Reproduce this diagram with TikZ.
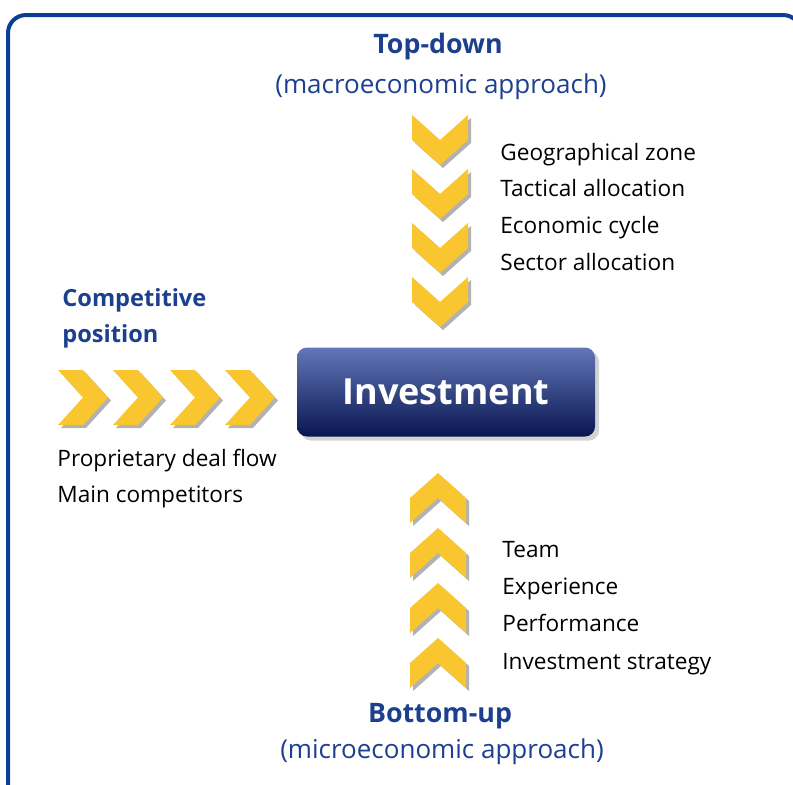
\documentclass[tikz,border=0pt]{standalone}
\usepackage{fontspec}
\setmainfont{Open Sans}
\usetikzlibrary{shadows}
\definecolor{frameblue}{HTML}{0B3F93}
\definecolor{headblue}{HTML}{1C3F8E}
\definecolor{chevyellow}{HTML}{F9C630}
\definecolor{boxtop}{HTML}{6276B8}
\definecolor{boxmid}{HTML}{263F93}
\definecolor{boxbot}{HTML}{081650}
\tikzset{
  chevron/.style={fill=chevyellow},
  chevshadow/.style={fill=black!30},
  heading/.style={font=\bfseries\fontsize{13.4}{18}\selectfont, text=headblue},
  subhead/.style={font=\fontsize{13}{15}\selectfont, text=headblue},
  item/.style={font=\fontsize{11.3}{13}\selectfont, anchor=west, inner sep=0pt,
    text height=8.2pt, text depth=2.6pt},
  investbox/.style={rounded corners=5pt, minimum width=149pt, minimum height=44.5pt,
    top color=boxtop, middle color=boxmid, bottom color=boxbot, text=white,
    font=\bfseries\fontsize{18}{20}\selectfont,
    drop shadow={opacity=.35, shadow xshift=2pt, shadow yshift=-2pt}},
  chevdown/.pic={
    \fill[chevshadow, shift={(3,3)}] (-28,0) -- (0,25) -- (28,0) -- (28,25) -- (0,50) -- (-28,25) -- cycle;
    \fill[chevron] (-28,0) -- (0,25) -- (28,0) -- (28,25) -- (0,50) -- (-28,25) -- cycle;
  },
  chevup/.pic={
    \fill[chevshadow, shift={(3,3)}] (0,0) -- (28,25) -- (28,50) -- (0,25) -- (-28,50) -- (-28,25) -- cycle;
    \fill[chevron] (0,0) -- (28,25) -- (28,50) -- (0,25) -- (-28,50) -- (-28,25) -- cycle;
  },
  chevright/.pic={
    \fill[chevshadow, shift={(3,3)}] (0,0) -- (25,0) -- (50,27.5) -- (25,55) -- (0,55) -- (25,27.5) -- cycle;
    \fill[chevron] (0,0) -- (25,0) -- (50,27.5) -- (25,55) -- (0,55) -- (25,27.5) -- cycle;
  }
}
\begin{document}
\begin{tikzpicture}[x=0.5pt, y=-0.5pt]
\useasboundingbox (0,0) rectangle (793,784);
% frame, cut at the right and bottom edges
\begin{scope}
\clip (0,0) rectangle (793,784);
\draw[frameblue, line width=2pt, rounded corners=9pt] (8,15) rectangle (801,820);
\end{scope}
% top-down
\node[heading] (topdown) at (438,47) {Top-down};
\node[subhead] (macro) at (441,87) {(macroeconomic approach)};
\foreach \y in {115,169,223,277} \pic at (440,\y) {chevdown};
\node[item] (geo) at (500,155) {Geographical zone};
\node[item] (tact) at (500,191) {Tactical allocation};
\node[item] (cycle) at (500,228) {Economic cycle};
\node[item] (sector) at (500,265) {Sector allocation};
% competitive position
\node[heading, font=\bfseries\fontsize{11.8}{18}\selectfont, anchor=west, align=left, inner sep=0pt] (compet) at (62,318) {Competitive\\position};
\foreach \x in {58,113,170,225} \pic at (\x,370) {chevright};
\node[item] (deal) at (57,461) {Proprietary deal flow};
\node[item] (compet2) at (57,497) {Main competitors};
% centre
\node[investbox] (invest) at (446,392) {Investment};
% bottom-up
\foreach \y in {473,528,583,638} \pic at (438,\y) {chevup};
\node[item] (team) at (502,552) {Team};
\node[item] (exper) at (502,589) {Experience};
\node[item] (perf) at (502,626) {Performance};
\node[item] (strat) at (502,664) {Investment strategy};
\node[heading] (bottomup) at (440,716) {Bottom-up};
\node[subhead] (micro) at (442,752) {(microeconomic approach)};
\end{tikzpicture}
\end{document}
